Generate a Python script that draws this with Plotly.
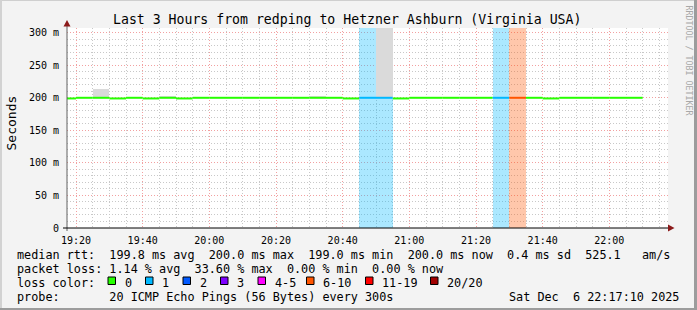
import plotly.graph_objects as go
from datetime import datetime, timedelta

# ---------------- data ----------------
day = "2025-12-06"
interval_start = [
    "19:15", "19:20", "19:25", "19:30", "19:35", "19:40", "19:45", "19:50", "19:55",
    "20:00", "20:05", "20:10", "20:15", "20:20", "20:25", "20:30", "20:35", "20:40",
    "20:45", "20:50", "20:55",
    "21:00", "21:05", "21:10", "21:15", "21:20", "21:25", "21:30", "21:35", "21:40",
    "21:45", "21:50", "21:55",
    "22:00", "22:05",
]
median_rtt_ms = [
    199.0, 200.0, 200.0, 199.0, 200.0, 199.0, 200.0, 199.0, 200.0,
    200.0, 200.0, 200.0, 200.0, 200.0, 200.0, 200.0, 200.0, 199.0,
    200.0, 200.0, 199.0,
    200.0, 200.0, 200.0, 200.0, 200.0, 200.0, 200.0, 200.0, 199.0,
    200.0, 200.0, 200.0,
    200.0, 200.0,
]
smoke_max_ms = [
    199.0, 200.0, 213.0, 199.0, 200.0, 199.0, 202.5, 199.0, 200.0,
    200.0, 200.0, 200.0, 200.0, 200.0, 200.0, 202.5, 200.0, 199.0,
    200.0, 330.0, 199.0,
    200.0, 200.0, 200.0, 200.0, 200.0, 200.0, 200.0, 200.0, 199.0,
    200.0, 200.0, 200.0,
    200.0, 200.0,
]
loss_pings = [
    0, 0, 0, 0, 0, 0, 0, 0, 0,
    0, 0, 0, 0, 0, 0, 0, 0, 0,
    1, 1, 0,
    0, 0, 0, 0, 0, 1, 7, 0, 0,
    0, 0, 0,
    0, 0,
]
loss_labels = ["0", "1", "2", "3", "4-5", "6-10", "11-19", "20/20"]
loss_colors = ["#26ff00", "#00b8ff", "#0059ff", "#7e00ff", "#ff00ff", "#ff5500", "#ff0000", "#a10000"]
loss_bin_max = [0, 1, 2, 3, 5, 10, 19, 20]

y_tick_vals = [0, 50, 100, 150, 200, 250, 300]
y_tick_text = ["0", "50 m", "100 m", "150 m", "200 m", "250 m", "300 m"]

title_text = "Last 3 Hours from redping to Hetzner Ashburn (Virginia USA)"
legend_rtt = "median rtt:  199.8 ms avg  200.0 ms max  199.0 ms min  200.0 ms now  0.4 ms sd  525.1   am/s"
legend_loss = "packet loss: 1.14 % avg  33.60 % max  0.00 % min  0.00 % now"
legend_probe = "probe:       20 ICMP Echo Pings (56 Bytes) every 300s"
stamp = "Sat Dec  6 22:17:10 2025"

# ---------------- geometry ----------------
W, H = 697, 310
PL, PR, PT, PB = 67, 668, 28, 228
STEP = timedelta(minutes=5)
MONO = "DejaVu Sans Mono"


def px(x):
    return (x - PL) / (PR - PL)


def py(y):
    return (PB - y) / (PB - PT)


def nb(s):
    return s.replace(" ", "\u00a0")


def loss_bin(n):
    for i, m in enumerate(loss_bin_max):
        if n <= m:
            return i
    return len(loss_bin_max) - 1


def rgba(hexc, a):
    h = hexc.lstrip("#")
    r, g, b = int(h[0:2], 16), int(h[2:4], 16), int(h[4:6], 16)
    return f"rgba({r},{g},{b},{a})"


starts = [datetime.fromisoformat(f"{day} {t}:00") for t in interval_start]
ends = [s + STEP for s in starts]
bins = [loss_bin(n) for n in loss_pings]

fig = go.Figure()

# loss background
for b in sorted(set(bins)):
    if b == 0:
        continue
    xs = [s for s, bb in zip(starts, bins) if bb == b]
    fig.add_trace(go.Bar(
        x=xs, y=[400] * len(xs), base=0, width=STEP.total_seconds() * 1000, offset=0,
        marker=dict(color=rgba(loss_colors[b], 0.33), line=dict(width=0)),
        showlegend=False, hoverinfo="skip"))

# smoke
sx, sb, sy = [], [], []
for s, m, mx in zip(starts, median_rtt_ms, smoke_max_ms):
    if mx > m:
        sx.append(s)
        sb.append(m)
        sy.append(mx - m)
fig.add_trace(go.Bar(
    x=sx, y=sy, base=sb, width=STEP.total_seconds() * 1000, offset=0,
    marker=dict(color="#dadada", line=dict(width=0)),
    showlegend=False, hoverinfo="skip"))

# median line, per loss colour
for b in sorted(set(bins)):
    xs, ys = [], []
    for s, e, m, bb in zip(starts, ends, median_rtt_ms, bins):
        if bb == b:
            xs += [s, e, None]
            ys += [m, m, None]
    fig.add_trace(go.Scatter(
        x=xs, y=ys, mode="lines", line=dict(color=loss_colors[b], width=2),
        showlegend=False, hoverinfo="skip", connectgaps=False))

x_left = datetime.fromisoformat(f"{day} 19:17:18")
x_right = datetime.fromisoformat(f"{day} 22:17:36")

fig.update_layout(
    width=W, height=H,
    margin=dict(l=PL, r=W - PR, t=PT, b=H - PB, pad=0),
    paper_bgcolor="#f3f3f3", plot_bgcolor="#ffffff",
    barmode="overlay", bargap=0,
    showlegend=False,
    font=dict(family=MONO, size=10, color="#000000"),
)
fig.update_xaxes(
    type="date", range=[x_left, x_right],
    tick0=f"{day} 19:20:00", dtick=20 * 60 * 1000, tickformat="%H:%M",
    ticks="outside", ticklen=3, tickcolor="rgba(0,0,0,0)",
    tickfont=dict(family=MONO, size=10, color="#000"),
    showgrid=True, gridcolor="#f2a0a0", griddash="1px,2px", gridwidth=1,
    minor=dict(dtick=5 * 60 * 1000, tick0=f"{day} 19:20:00", showgrid=True,
               gridcolor="#c8c8c8", griddash="1px,2px", gridwidth=1),
    showline=False, zeroline=False, fixedrange=True,
)
fig.update_yaxes(
    range=[0, 307.2], tickvals=y_tick_vals, ticktext=y_tick_text,
    ticks="outside", ticklen=5, tickcolor="rgba(0,0,0,0)",
    tickfont=dict(family=MONO, size=10, color="#000"),
    showgrid=True, gridcolor="#f2a0a0", griddash="1px,2px", gridwidth=1,
    minor=dict(dtick=10, tick0=0, showgrid=True, gridcolor="#c8c8c8",
               griddash="1px,2px", gridwidth=1),
    showline=False, zeroline=False, fixedrange=True,
)

shapes = []
# frame of the image
shapes.append(dict(type="line", xref="paper", yref="paper", x0=px(0), x1=px(W), y0=py(0.5), y1=py(0.5),
                   line=dict(color="#cfcfcf", width=1)))
shapes.append(dict(type="line", xref="paper", yref="paper", x0=px(1), x1=px(1), y0=py(0), y1=py(H),
                   line=dict(color="#d2d2d2", width=2)))
shapes.append(dict(type="line", xref="paper", yref="paper", x0=px(0), x1=px(W), y0=py(H - 1), y1=py(H - 1),
                   line=dict(color="#9c9c9c", width=2)))
shapes.append(dict(type="line", xref="paper", yref="paper", x0=px(W - 1.5), x1=px(W - 1.5), y0=py(0), y1=py(H),
                   line=dict(color="#9c9c9c", width=3)))
# axes
shapes.append(dict(type="line", xref="paper", yref="paper", x0=px(PL), x1=px(PL), y0=py(PB + 3), y1=py(22),
                   line=dict(color="#606060", width=1)))
shapes.append(dict(type="line", xref="paper", yref="paper", x0=px(63), x1=px(670), y0=py(PB), y1=py(PB),
                   line=dict(color="#000000", width=1)))
shapes.append(dict(type="path", xref="paper", yref="paper",
                   path=f"M {px(63.5)},{py(26.5)} L {px(70.5)},{py(26.5)} L {px(67)},{py(20)} Z",
                   fillcolor="#8b1a1a", line=dict(width=0)))
shapes.append(dict(type="path", xref="paper", yref="paper",
                   path=f"M {px(668)},{py(224.5)} L {px(668)},{py(231.5)} L {px(674.5)},{py(228)} Z",
                   fillcolor="#8b1a1a", line=dict(width=0)))

annotations = []


def add_text(text, x, y, size, xanchor="left", yanchor="middle", color="#000", angle=0):
    annotations.append(dict(text=nb(text), x=px(x), y=py(y), xref="paper", yref="paper",
                            xanchor=xanchor, yanchor=yanchor, showarrow=False, textangle=angle,
                            font=dict(family=MONO, size=size, color=color)))


add_text(title_text, 347, 19, 13.2, xanchor="center")
add_text("Seconds", 10.5, 123, 13, xanchor="center", angle=-90)
add_text("RRDTOOL / TOBI OETIKER", 688.5, 60, 8.3, xanchor="center", color="#a8a8a8", angle=90)

LEG = 11.8
add_text(legend_rtt, 15, 254.5, LEG)
add_text(legend_loss, 15, 268.5, LEG)
add_text("loss color:", 15, 282.5, LEG)
add_text(legend_probe, 15, 296.5, LEG)
add_text(stamp, 681, 296.5, LEG, xanchor="right")

box_x = [108, 145.5, 183, 220.5, 258, 306.5, 365.5, 430.5]
for bx, lab, col in zip(box_x, loss_labels, loss_colors):
    shapes.append(dict(type="rect", xref="paper", yref="paper",
                       x0=px(bx), x1=px(bx + 7.5), y0=py(284.5), y1=py(277),
                       fillcolor=col, line=dict(color="#000", width=1)))
    add_text(lab, bx + 14.5, 282.5, LEG)

fig.update_layout(shapes=shapes, annotations=annotations)
fig.write_html("out.html")
